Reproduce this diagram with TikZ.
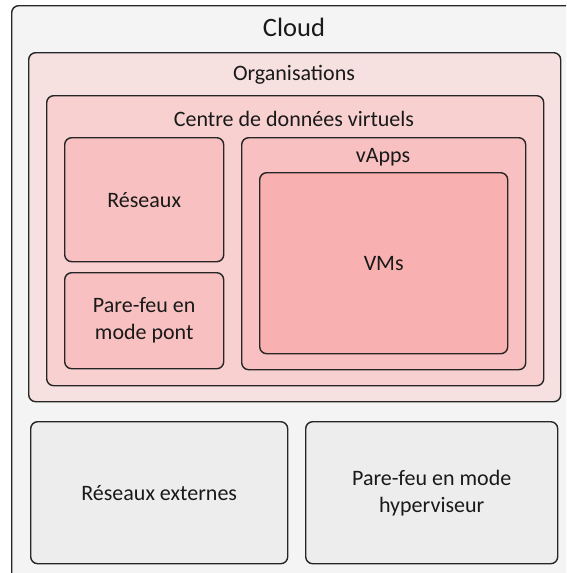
\documentclass[tikz,border=0pt]{standalone}
\usepackage{fontspec}
\setmainfont{Carlito}
\definecolor{cloudfill}{HTML}{F4F4F4}
\definecolor{orgfill}{HTML}{F6E0E0}
\definecolor{vdcfill}{HTML}{F8D0D0}
\definecolor{itemfill}{HTML}{F8C0C0}
\definecolor{vmfill}{HTML}{F8B0B0}
\definecolor{extfill}{HTML}{EDEDED}
\definecolor{edge}{HTML}{262626}
\tikzset{
  box/.style={draw=edge, line width=1.4pt, rounded corners=7pt,
    anchor=north west, inner sep=0pt},
  lbl/.style={font=\fontsize{22}{27}\selectfont, align=center, text=black!90},
}
\begin{document}
\begin{tikzpicture}[x=1pt, y=-1pt]
  \useasboundingbox (0,0) rectangle (566,573);
  \clip (0,0) rectangle (566,573);
  % Outer containers

  \node[box, fill=cloudfill, minimum width=590pt, minimum height=600pt] (cloud) at (11,5) {};
  \node[box, fill=orgfill, minimum width=532pt, minimum height=349pt] (org) at (28,52) {};
  \node[box, fill=vdcfill, minimum width=497pt, minimum height=290pt] (vdc) at (46,95) {};

  % Inner boxes
  \node[box, fill=itemfill, minimum width=159pt, minimum height=124pt] (net) at (64,137) {};
  \node[box, fill=itemfill, minimum width=159pt, minimum height=96pt] (fwbridge) at (64,272) {};
  \node[box, fill=itemfill, minimum width=284pt, minimum height=232pt] (vapps) at (241,137) {};
  \node[box, fill=vmfill, minimum width=248pt, minimum height=181pt] (vms) at (259,172) {};

  % Bottom row
  \node[box, fill=extfill, minimum width=257pt, minimum height=142pt] (extnet) at (30,421) {};
  \node[box, fill=extfill, minimum width=252pt, minimum height=142pt] (fwhyper) at (305,421) {};

  % Labels
  \node[lbl, font=\fontsize{26.5}{30}\selectfont] (cloudtxt) at (294,27) {Cloud};
  \node[lbl] (orgtxt) at (294,75) {Organisations};
  \node[lbl] (vdctxt) at (294,119) {Centre de données virtuels};
  \node[lbl] (vappstxt) at (383,157) {vApps};
  \node[lbl] at (vms.center) (vmstxt) {VMs};
  \node[lbl] at (net.center) (nettxt) {Réseaux};
  \node[lbl] at (fwbridge.center) (fwbridgetxt) {Pare-feu en\\mode pont};
  \node[lbl] at (extnet.center) (extnettxt) {Réseaux externes};
  \node[lbl] at (fwhyper.center) (fwhypertxt) {Pare-feu en mode\\hyperviseur};
\end{tikzpicture}
\end{document}
